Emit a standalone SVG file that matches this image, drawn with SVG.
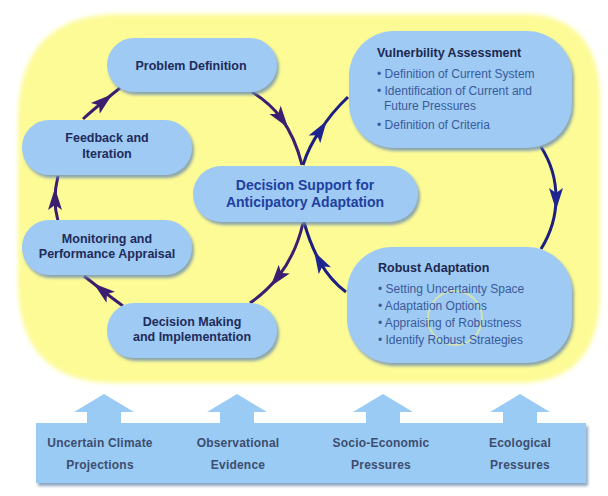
<svg xmlns="http://www.w3.org/2000/svg" width="608" height="496" viewBox="0 0 608 496">
<defs>
<style>
.node{fill:#9ecaf3;filter:url(#sh);}
.lbl{font-family:"Liberation Sans",Arial,sans-serif;font-weight:bold;font-size:12.5px;fill:#1f2b5a;text-anchor:middle;}
.ds{font-family:"Liberation Sans",Arial,sans-serif;font-weight:bold;font-size:14px;fill:#2040a0;text-anchor:middle;}
.ttl{font-family:"Liberation Sans",Arial,sans-serif;font-weight:bold;font-size:12.5px;fill:#1c2850;}
.bul{font-family:"Liberation Sans",Arial,sans-serif;font-size:12px;fill:#3b5a9c;}
.bot{font-family:"Liberation Sans",Arial,sans-serif;font-weight:bold;font-size:12px;fill:#3d4d6e;text-anchor:middle;letter-spacing:0.2px;}
.cp{fill:none;stroke:#3a1f70;stroke-width:3;marker-mid:url(#ap);}
.cb{fill:none;stroke:#1c1f80;stroke-width:3;marker-mid:url(#ab);}
.up{fill:#99cbf5;}
</style>
<filter id="sh" x="-10%" y="-10%" width="125%" height="130%">
<feGaussianBlur in="SourceAlpha" stdDeviation="1.5"/>
<feOffset dx="2" dy="3" result="o"/>
<feFlood flood-color="#6f8fb0" flood-opacity="0.8"/>
<feComposite in2="o" operator="in"/>
<feMerge><feMergeNode/><feMergeNode in="SourceGraphic"/></feMerge>
</filter>
<filter id="bl" x="-5%" y="-5%" width="110%" height="110%">
<feGaussianBlur stdDeviation="2"/>
</filter>
<marker id="ap" markerUnits="userSpaceOnUse" markerWidth="24" markerHeight="16" refX="10" refY="8" orient="auto">
<path d="M0,1 L22,8 L0,15 L5,8 Z" fill="#3a1f70"/>
</marker>
<marker id="ab" markerUnits="userSpaceOnUse" markerWidth="24" markerHeight="16" refX="10" refY="8" orient="auto">
<path d="M0,1 L22,8 L0,15 L5,8 Z" fill="#1e2590"/>
</marker>
</defs>
<rect width="608" height="496" fill="#ffffff"/>
<path id="bg" d="M120,14 H522 Q600,14 600,100 V292 Q600,383 518,383 H115 Q18,383 18,282 V120 Q18,14 120,14 Z" fill="#fdfb96" filter="url(#bl)"/>

<g id="connectors">
<path class="cp" d="M58,221 Q55,210 55,200 Q55,188 58,176"/>
<path class="cp" d="M83,119 Q94,109 103,102 Q111,95 120,88"/>
<path class="cp" d="M252,92 Q270,103 281,118 Q295,137 302,165"/>
<path class="cb" d="M303,165 Q309,146 320,131 Q331,113 348,97"/>
<path class="cb" d="M541,147 Q556,170 556,198 Q556,225 541,249"/>
<path class="cb" d="M346,292 Q330,280 320,262 Q310,244 304,222"/>
<path class="cp" d="M303,223 Q296,254 278,277 Q266,292 250,303"/>
<path class="cp" d="M123,306 Q112,298 103,291 Q93,283 84,276"/>
</g>

<g id="problem-definition">
<rect class="node" x="107" y="38" width="170" height="54" rx="27"/>
<text class="lbl" x="191" y="69.5">Problem Definition</text>
</g>
<g id="feedback">
<rect class="node" x="22" y="120" width="170" height="55" rx="27"/>
<text class="lbl" x="107" y="142">Feedback and</text>
<text class="lbl" x="107" y="158">Iteration</text>
</g>
<g id="monitoring">
<rect class="node" x="22" y="220" width="170" height="55" rx="27"/>
<text class="lbl" x="107" y="243">Monitoring and</text>
<text class="lbl" x="107" y="258">Performance Appraisal</text>
</g>
<g id="decision-making">
<rect class="node" x="107" y="303" width="170" height="55" rx="27"/>
<text class="lbl" x="192" y="326">Decision Making</text>
<text class="lbl" x="192" y="341">and Implementation</text>
</g>
<g id="decision-support">
<rect class="node" x="193" y="166" width="225" height="56" rx="28"/>
<text class="ds" x="305" y="190">Decision Support for</text>
<text class="ds" x="305" y="207">Anticipatory Adaptation</text>
</g>
<g id="vulnerability">
<rect class="node" x="349" y="31" width="223" height="117" rx="45"/>
<text class="ttl" x="377" y="57">Vulnerbility Assessment</text>
<text class="bul" x="377" y="78">• Definition of Current System</text>
<text class="bul" x="377" y="95">• Identification of Current and</text>
<text class="bul" x="384" y="110">Future Pressures</text>
<text class="bul" x="377" y="129">• Definition of Criteria</text>
</g>
<g id="robust">
<rect class="node" x="347" y="247" width="225" height="116" rx="45"/>
<circle cx="455" cy="318" r="27" fill="none" stroke="#f4f38a" stroke-width="2" opacity="0.6"/>
<text class="ttl" x="378" y="272">Robust Adaptation</text>
<text class="bul" x="378" y="293">• Setting Uncertainty Space</text>
<text class="bul" x="378" y="310">• Adaptation Options</text>
<text class="bul" x="378" y="327">• Appraising of Robustness</text>
<text class="bul" x="378" y="344">• Identify Robust Strategies</text>
</g>

<g id="pressures">
<rect x="36" y="423" width="550" height="60" fill="#99cbf5" filter="url(#sh)"/>
<polygon class="up" points="104,394 134,412 121,412 121,425 87,425 87,412 74,412"/>
<polygon class="up" points="237,394 267,412 254,412 254,425 220,425 220,412 207,412"/>
<polygon class="up" points="383,394 413,412 400,412 400,425 366,425 366,412 353,412"/>
<polygon class="up" points="520,394 550,412 537,412 537,425 503,425 503,412 490,412"/>
<text class="bot" x="100" y="447">Uncertain Climate</text>
<text class="bot" x="100" y="469">Projections</text>
<text class="bot" x="238" y="447">Observational</text>
<text class="bot" x="238" y="469">Evidence</text>
<text class="bot" x="381" y="447">Socio-Economic</text>
<text class="bot" x="381" y="469">Pressures</text>
<text class="bot" x="520" y="447">Ecological</text>
<text class="bot" x="520" y="469">Pressures</text>
</g>
</svg>
